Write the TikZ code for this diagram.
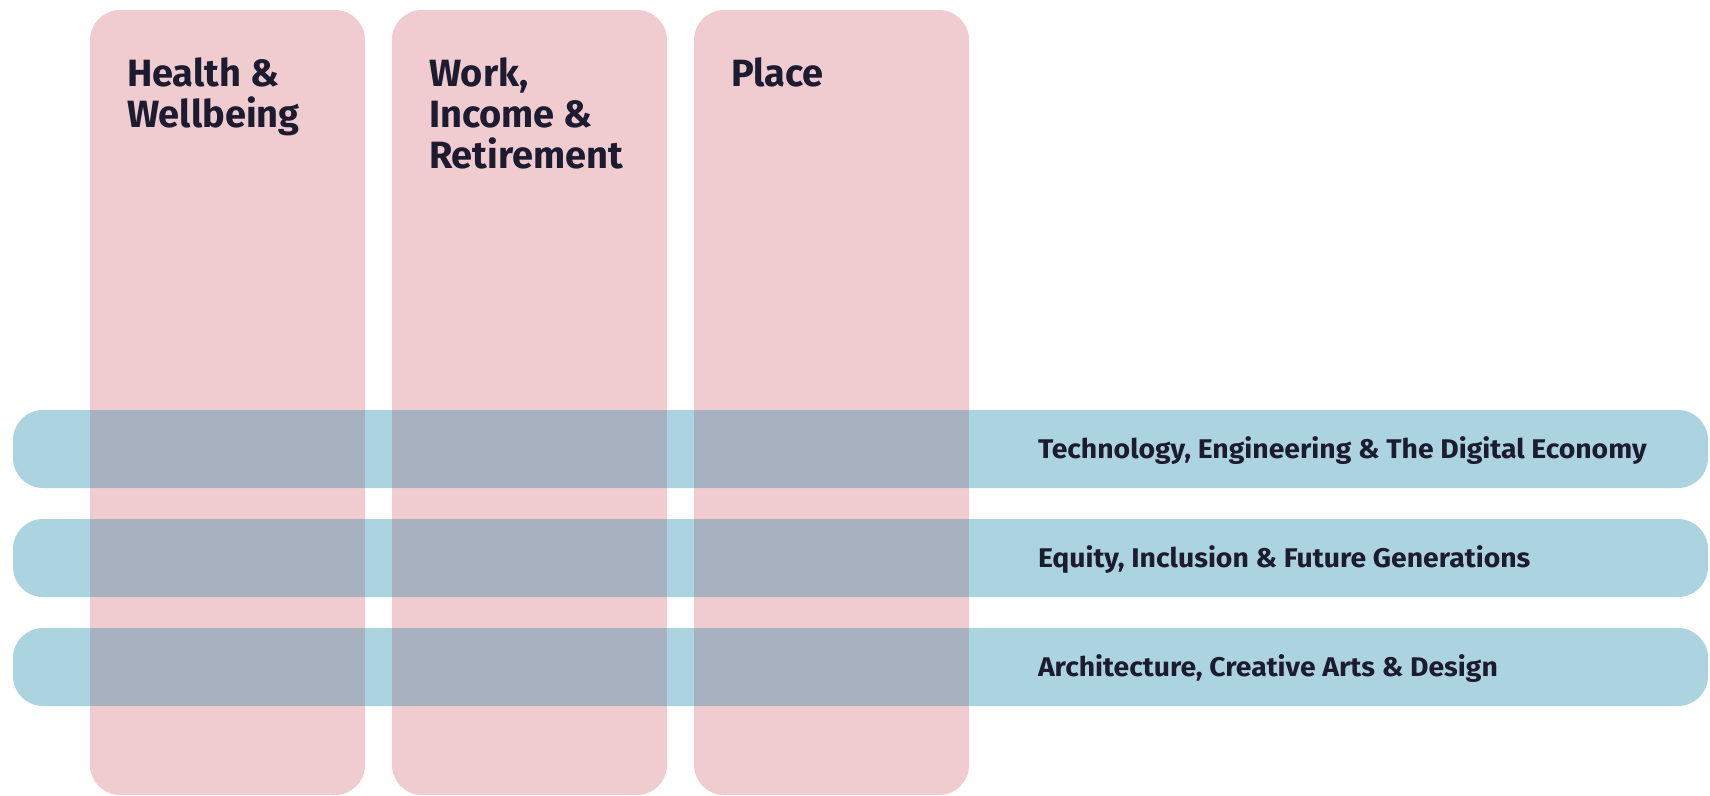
\documentclass[tikz,border=0pt]{standalone}
\usepackage{fontspec}
\setmainfont{Fira Sans}
\newfontfamily\bandfont{Fira Sans}[FakeStretch=1.05]
\usepackage{tikz}
\usetikzlibrary{positioning}

\definecolor{pillarpink}{HTML}{F0CBD0}
\definecolor{bandblue}{HTML}{ACD4E0}
\definecolor{overlapgrey}{HTML}{A7B1C0}
\definecolor{inkblue}{HTML}{1C1B30}

\tikzset{
	pillar/.style = {fill = pillarpink, rounded corners = 30pt, inner sep = 0pt, minimum width = 275pt, minimum height = 785pt},
	band/.style = {fill = bandblue, rounded corners = 30pt, inner sep = 0pt, minimum width = 1695pt, minimum height = 78pt},
	pillartitle/.style = {anchor = north west, align = left, inner sep = 0pt, text = inkblue, font = \fontsize{38}{41}\selectfont\bfseries},
	bandtitle/.style = {anchor = base west, inner sep = 0pt, text = inkblue, font = \fontsize{27}{30}\selectfont\bandfont\bfseries},
	overlap/.style = {fill = overlapgrey}
}

\begin{document}
\begin{tikzpicture}[x = 1pt, y = -1pt]
	\useasboundingbox (0,0) rectangle (1710,795);
	% pillars
	\node [pillar] (health) at (227.5,402.5) {};
	\node [pillar] (work) at (529.5,402.5) {};
	\node [pillar] (place) at (831.5,402.5) {};
	% bands
	\node [band] (tech) at (860.5,449) {};
	\node [band] (equity) at (860.5,558) {};
	\node [band] (arch) at (860.5,667) {};
	% overlaps
	\fill [overlap] (health.west |- tech.north) rectangle (health.east |- tech.south);
	\fill [overlap] (work.west |- tech.north) rectangle (work.east |- tech.south);
	\fill [overlap] (place.west |- tech.north) rectangle (place.east |- tech.south);
	\fill [overlap] (health.west |- equity.north) rectangle (health.east |- equity.south);
	\fill [overlap] (work.west |- equity.north) rectangle (work.east |- equity.south);
	\fill [overlap] (place.west |- equity.north) rectangle (place.east |- equity.south);
	\fill [overlap] (health.west |- arch.north) rectangle (health.east |- arch.south);
	\fill [overlap] (work.west |- arch.north) rectangle (work.east |- arch.south);
	\fill [overlap] (place.west |- arch.north) rectangle (place.east |- arch.south);
	% titles
	\node [pillartitle] (healthtitle) at ([xshift=37pt,yshift=-48pt]health.north west) {Health \&\\Wellbeing};
	\node [pillartitle] (worktitle) at ([xshift=37pt,yshift=-48pt]work.north west) {Work,\\Income \&\\Retirement};
	\node [pillartitle] (placetitle) at ([xshift=37pt,yshift=-48pt]place.north west) {Place};
	\node [bandtitle] (techtitle) at ([xshift=1025pt,yshift=-9pt]tech.west) {Technology, Engineering \& The Digital Economy};
	\node [bandtitle] (equitytitle) at ([xshift=1025pt,yshift=-9pt]equity.west) {Equity, Inclusion \& Future Generations};
	\node [bandtitle] (archtitle) at ([xshift=1025pt,yshift=-9pt]arch.west) {Architecture, Creative Arts \& Design};
\end{tikzpicture}
\end{document}
